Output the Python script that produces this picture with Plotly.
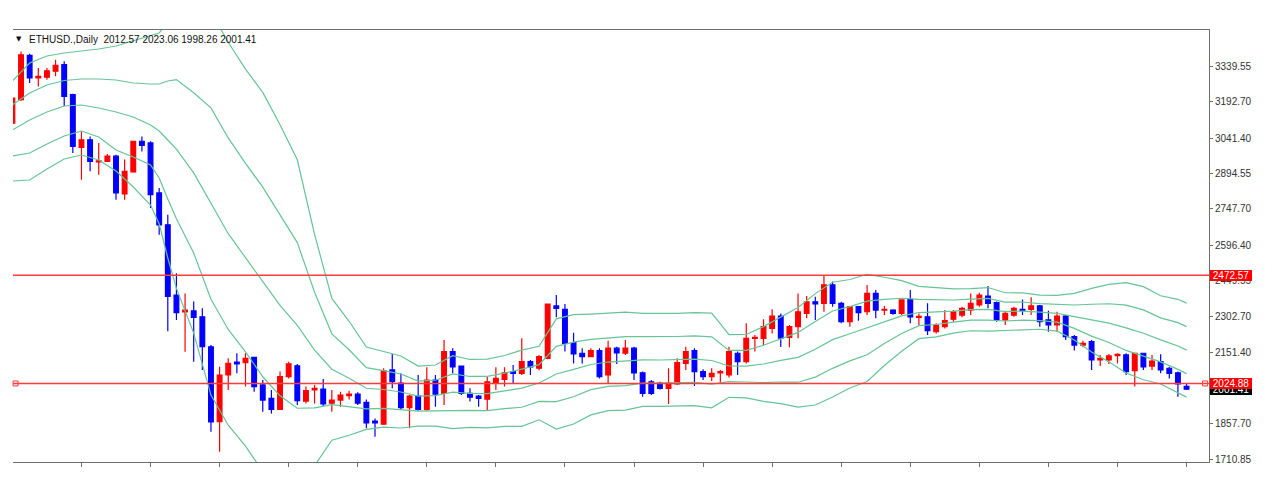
import plotly.graph_objects as go

# ---------------- data ----------------
opens = [3103, 3200, 3384, 3290, 3293, 3318, 3345, 3221, 3003, 3034,
         2942, 2945, 2966, 2810, 2901, 3028, 3021, 2814, 2682, 2391,
         2321, 2326, 2301, 2177, 1867, 2060, 2113, 2111, 2133, 2019,
         1963, 1918, 2053, 2098, 1952, 1998, 2002, 1943, 1956, 1974,
         1981, 1947, 1869, 1856, 2081, 2026, 1925, 1973, 1918, 2039,
         1984, 2157, 2097, 1984, 1973, 1960, 2028, 2042, 2074, 2067,
         2115, 2088, 2129, 2346, 2332, 2194, 2150, 2136, 2161, 2060,
         2171, 2150, 2171, 2069, 2032, 2026, 2005, 2023, 2108, 2161,
         2074, 2053, 2069, 2060, 2150, 2115, 2212, 2212, 2253, 2304,
         2216, 2260, 2315, 2363, 2357, 2433, 2357, 2281, 2343, 2322,
         2398, 2329, 2329, 2315, 2373, 2299, 2301, 2239, 2260, 2291,
         2308, 2329, 2350, 2387, 2360, 2288, 2308, 2332, 2332, 2346,
         2288, 2267, 2304, 2219, 2184, 2198, 2122, 2122, 2140, 2143,
         2078, 2150, 2097, 2115, 2088, 2069, 2012.57]
highs = [3212, 3400, 3390, 3331, 3331, 3366, 3359, 3225, 3069, 3048,
         3021, 2975, 2972, 2952, 3030, 3048, 3028, 2834, 2724, 2481,
         2398, 2364, 2336, 2184, 2094, 2129, 2150, 2150, 2135, 2039,
         1998, 2074, 2115, 2106, 2012, 2019, 2043, 1998, 1991, 1995,
         1989, 1959, 1880, 2088, 2147, 2067, 1977, 2060, 2092, 2060,
         2205, 2171, 2099, 2005, 1977, 2053, 2092, 2092, 2101, 2212,
         2122, 2143, 2356, 2391, 2354, 2235, 2171, 2171, 2171, 2202,
         2177, 2205, 2177, 2074, 2039, 2032, 2088, 2129, 2177, 2171,
         2084, 2088, 2081, 2177, 2157, 2274, 2226, 2291, 2332, 2315,
         2267, 2398, 2387, 2384, 2470, 2447, 2363, 2343, 2346, 2433,
         2412, 2346, 2332, 2373, 2412, 2315, 2357, 2274, 2329, 2329,
         2343, 2398, 2401, 2429, 2364, 2326, 2343, 2373, 2382, 2350,
         2326, 2322, 2308, 2226, 2202, 2205, 2143, 2147, 2150, 2150,
         2152, 2152, 2143, 2146, 2094, 2074, 2023.06]
lows = [3100, 3195, 3269, 3255, 3283, 3297, 3173, 2979, 2869, 2904,
        2889, 2942, 2786, 2786, 2898, 2986, 2752, 2641, 2241, 2288,
        2156, 2115, 2081, 1825, 1742, 1998, 2067, 2012, 1991, 1908,
        1901, 1916, 2046, 1936, 1942, 1942, 1932, 1908, 1929, 1959,
        1936, 1839, 1804, 1855, 2005, 1915, 1839, 1912, 1912, 1929,
        1936, 2067, 1977, 1950, 1929, 1912, 1998, 2012, 2026, 2060,
        2060, 2080, 2125, 2299, 2157, 2108, 2108, 2133, 2046, 2026,
        2106, 2143, 2039, 1970, 1977, 2000, 1940, 2019, 2081, 2014,
        2039, 2035, 2023, 2050, 2060, 2108, 2157, 2184, 2232, 2176,
        2175, 2212, 2295, 2288, 2322, 2343, 2274, 2260, 2285, 2308,
        2295, 2308, 2310, 2308, 2274, 2267, 2226, 2232, 2253, 2281,
        2299, 2308, 2343, 2336, 2281, 2267, 2301, 2308, 2308, 2260,
        2239, 2239, 2205, 2161, 2175, 2081, 2097, 2106, 2108, 2060,
        2012, 2081, 2081, 2067, 2046, 1970, 1998.26]
closes = [3207, 3386, 3290, 3297, 3320, 3342, 3214, 3007, 3034, 2945,
          2947, 2966, 2814, 2903, 3028, 3011, 2807, 2682, 2386, 2318,
          2329, 2299, 2177, 1866, 2060, 2108, 2106, 2129, 2012, 1956,
          1918, 2053, 2106, 1954, 1995, 2005, 1940, 1956, 1977, 1981,
          1943, 1862, 1862, 2077, 2032, 1925, 1973, 1918, 2039, 1981,
          2157, 2094, 1984, 1968, 1963, 2032, 2046, 2069, 2067, 2115,
          2094, 2136, 2354, 2336, 2191, 2147, 2136, 2161, 2053, 2171,
          2152, 2171, 2069, 1984, 1984, 2005, 2026, 2111, 2157, 2074,
          2053, 2067, 2074, 2157, 2115, 2212, 2216, 2260, 2304, 2213,
          2260, 2322, 2363, 2354, 2433, 2357, 2281, 2343, 2318, 2398,
          2329, 2332, 2315, 2371, 2301, 2303, 2244, 2267, 2285, 2322,
          2336, 2357, 2391, 2357, 2288, 2315, 2336, 2326, 2346, 2281,
          2267, 2304, 2219, 2184, 2191, 2122, 2129, 2139, 2146, 2074,
          2150, 2094, 2118, 2081, 2067, 2023, 2001.41]
bars = list(range(len(opens)))

# band lines (upper 2, upper 1, middle, lower 1, lower 2) sampled at bar indices
band_idx = [0, 2, 4, 6, 8, 10, 12, 14, 16, 17, 18, 19, 21, 23, 25, 27, 29, 31, 33,
            35, 37, 39, 41, 43, 45, 47, 49, 51, 53, 55, 57, 59, 61, 63, 65, 67, 69,
            71, 73, 75, 77, 79, 81, 83, 85, 87, 89, 91, 93, 95, 97, 99, 101, 103,
            105, 107, 109, 111, 113, 115, 117, 119, 121, 123, 125, 127, 129, 131,
            133, 135, 136]
band_u2 = [3277.5, 3352.0, 3381.0, 3393.4, 3401.7, 3410.0, 3422.4, 3443.1, 3463.8, 3476.3,
           3521.8, 3571.8, 3560.4, 3562.6, 3438.1, 3326.6, 3230.2, 3096.7, 2951.3,
           2642.5, 2377.3, 2282.4, 2175.8, 2156.1, 2138.5, 2096.7, 2101.3, 2139.9, 2124.3,
           2125.4, 2140.8, 2163.2, 2178.8, 2292.6, 2309.6, 2312.1, 2315.3, 2320.1, 2314.8,
           2314.1, 2315.6, 2318.2, 2316.3, 2226.8, 2227.8, 2260.4, 2298.8, 2339.4, 2397.0,
           2444.0, 2455.6, 2477.0, 2464.9, 2451.0, 2426.9, 2423.0, 2416.3, 2417.7, 2422.2,
           2400.7, 2400.0, 2390.7, 2389.6, 2398.3, 2418.9, 2435.2, 2442.8, 2425.8, 2388.1,
           2373.5, 2357.7]
band_u1 = [3178.1, 3227.8, 3260.9, 3279.5, 3285.8, 3285.8, 3281.6, 3269.2, 3265.0, 3265.0,
           3277.5, 3283.5, 3228.7, 3166.2, 3041.6, 2936.2, 2837.7, 2722.4, 2608.3,
           2402.9, 2230.5, 2164.4, 2090.5, 2078.1, 2064.0, 2034.5, 2038.1, 2064.4, 2053.9,
           2054.3, 2067.5, 2084.3, 2102.7, 2178.4, 2196.4, 2207.8, 2214.5, 2218.7, 2218.6,
           2218.1, 2219.4, 2221.9, 2218.2, 2162.0, 2162.2, 2183.0, 2209.5, 2236.3, 2281.7,
           2325.2, 2343.2, 2366.0, 2373.5, 2377.9, 2372.8, 2371.7, 2370.6, 2374.1, 2377.1,
           2361.7, 2362.3, 2355.4, 2352.6, 2349.9, 2352.9, 2355.0, 2349.1, 2329.4, 2296.8,
           2276.7, 2260.4]
band_mid = [3074.5, 3116.0, 3149.1, 3174.0, 3178.1, 3165.6, 3149.1, 3128.4, 3095.3, 3070.4,
            3033.1, 2995.2, 2897.0, 2769.8, 2645.1, 2545.8, 2445.2, 2348.1, 2265.3,
            2163.3, 2083.7, 2046.4, 2005.2, 2000.0, 1989.5, 1972.3, 1974.9, 1988.9, 1983.5,
            1983.2, 1994.2, 2005.4, 2026.6, 2064.2, 2083.2, 2103.5, 2113.7, 2117.3, 2122.4,
            2122.1, 2123.2, 2125.6, 2120.1, 2097.2, 2096.6, 2105.6, 2120.2, 2133.2, 2166.4,
            2206.4, 2230.8, 2255.0, 2282.1, 2304.8, 2318.7, 2320.4, 2324.9, 2330.5, 2332.0,
            2322.7, 2324.6, 2320.1, 2315.6, 2301.5, 2286.9, 2274.8, 2255.4, 2233.0, 2205.5,
            2179.9, 2163.1]
band_l1 = [2966.9, 2979.3, 3016.6, 3049.7, 3070.4, 3045.6, 2991.7, 2962.7, 2929.6, 2875.8,
           2788.8, 2706.9, 2565.3, 2373.4, 2248.6, 2155.4, 2052.7, 1973.8, 1922.3,
           1923.7, 1936.9, 1928.4, 1919.9, 1922.0, 1915.0, 1910.1, 1911.7, 1913.4, 1913.1,
           1912.1, 1920.9, 1926.5, 1950.5, 1950.0, 1970.0, 1999.2, 2012.9, 2015.9, 2026.2,
           2026.1, 2027.0, 2029.3, 2022.0, 2032.4, 2031.0, 2028.2, 2030.9, 2030.1, 2051.1,
           2087.6, 2118.4, 2144.0, 2190.7, 2231.7, 2264.6, 2269.1, 2279.2, 2286.9, 2286.9,
           2283.7, 2286.9, 2284.8, 2278.6, 2253.1, 2220.9, 2194.6, 2161.7, 2136.6, 2114.2,
           2083.1, 2065.8]
band_l2 = [2863.3, 2867.5, 2913.1, 2954.5, 2971.0, 2950.3, 2904.8, 2838.5, 2764.0, 2685.3,
           2544.5, 2418.6, 2233.6, 1977.0, 1852.1, 1765.0, 1660.2, 1599.5, 1579.3,
           1684.1, 1790.1, 1810.4, 1834.6, 1843.9, 1840.5, 1847.9, 1848.5, 1837.9, 1842.7,
           1841.0, 1847.6, 1847.6, 1874.4, 1835.8, 1856.8, 1894.9, 1912.1, 1914.5, 1930.0,
           1930.1, 1930.8, 1933.0, 1923.9, 1967.6, 1965.4, 1950.8, 1941.6, 1927.0, 1935.8,
           1968.8, 2006.0, 2033.0, 2099.3, 2158.6, 2210.5, 2217.8, 2233.5, 2243.3, 2241.8,
           2244.7, 2249.2, 2249.5, 2241.6, 2204.7, 2154.9, 2114.4, 2068.0, 2040.2, 2022.9,
           1986.3, 1968.5]

level_prices = [2472.57, 2024.88]
ytick_vals = [3339.55, 3192.70, 3041.40, 2894.55, 2747.70, 2596.40, 2449.55,
              2302.70, 2151.40, 1857.70, 1710.85]
symbol_name = "ETHUSD.,Daily"

# ---------------- figure ----------------
X_RANGE = [0.07, 138.6]
Y_RANGE = [1699.7, 3488.7]
BAND_COLOR = "#66c495"
FONT = "Liberation Sans, Arial, sans-serif"

fig = go.Figure()

for vals in (band_u2, band_u1, band_mid, band_l1, band_l2):
    fig.add_trace(go.Scatter(x=band_idx, y=vals, mode="lines",
                             line=dict(color=BAND_COLOR, width=1.2),
                             hoverinfo="skip", showlegend=False))

fig.add_trace(go.Candlestick(
    x=bars, open=opens, high=highs, low=lows, close=closes,
    increasing=dict(line=dict(color="#ff0000", width=1.2), fillcolor="#ff0000"),
    decreasing=dict(line=dict(color="#0000ff", width=1.2), fillcolor="#0000ff"),
    whiskerwidth=0, showlegend=False, hoverinfo="skip"))

# horizontal level lines
for p in level_prices:
    fig.add_shape(type="line", xref="paper", x0=0, x1=1, yref="y", y0=p, y1=p,
                  line=dict(color="#ff3b3b", width=1.5), layer="above")

# small open squares at the ends of the lower level line
fig.add_trace(go.Scatter(x=[X_RANGE[0] + 0.3, X_RANGE[1] - 0.45],
                         y=[level_prices[1], level_prices[1]], mode="markers",
                         marker=dict(symbol="square-open", size=5,
                                     color="#ff3b3b", line=dict(width=1)),
                         hoverinfo="skip", showlegend=False, cliponaxis=False))

# right-side price labels (the current-price label sits partly under the level label, as in the reference)
def price_label(price, bg):
    fig.add_annotation(xref="paper", x=1.0, xanchor="left", xshift=1,
                       yref="y", y=price, yanchor="middle",
                       text="\u00a0" + f"{price:.2f}" + "\u00a0",
                       showarrow=False, bgcolor=bg, borderpad=0, borderwidth=0,
                       font=dict(family=FONT, size=10, color="white"))

price_label(closes[-1], "#000000")
price_label(level_prices[1], "#ff0000")
price_label(level_prices[0], "#ff0000")

# header
fig.add_annotation(xref="paper", yref="paper", x=(18.5 - 13) / 1196, y=1 - (38.5 - 30) / 432,
                   xanchor="center", yanchor="middle", text="\u25bc", showarrow=False,
                   font=dict(family="DejaVu Sans", size=7, color="#111"))
header = (symbol_name + "\u00a0\u00a0" +
          " ".join(f"{v:.2f}" for v in (opens[-1], highs[-1], lows[-1], closes[-1])))
fig.add_annotation(xref="paper", yref="paper", x=(27 - 13) / 1196, y=1 - (39 - 30) / 432,
                   xanchor="left", yanchor="middle", text=header, showarrow=False,
                   font=dict(family=FONT, size=10, color="#111"))

fig.update_layout(
    width=1274, height=500,
    margin=dict(l=13, r=65, t=30, b=38),
    paper_bgcolor="white", plot_bgcolor="white",
    showlegend=False,
    boxgap=0.22,
    xaxis=dict(range=X_RANGE, showgrid=False, zeroline=False,
               showline=True, linecolor="#6e6e6e", linewidth=1, mirror=True,
               ticks="outside", ticklen=4, tickcolor="#6e6e6e",
               tickvals=list(range(0, len(bars), 8)), showticklabels=False,
               rangeslider=dict(visible=False), fixedrange=True),
    yaxis=dict(range=Y_RANGE, side="right", showgrid=False, zeroline=False,
               showline=True, linecolor="#6e6e6e", linewidth=1,
               ticks="outside", ticklen=3, tickcolor="#6e6e6e",
               tickvals=ytick_vals, ticktext=[f"{v:.2f}" for v in ytick_vals],
               tickfont=dict(family=FONT, size=10, color="#333"), fixedrange=True),
)

fig.write_html("out.html")
